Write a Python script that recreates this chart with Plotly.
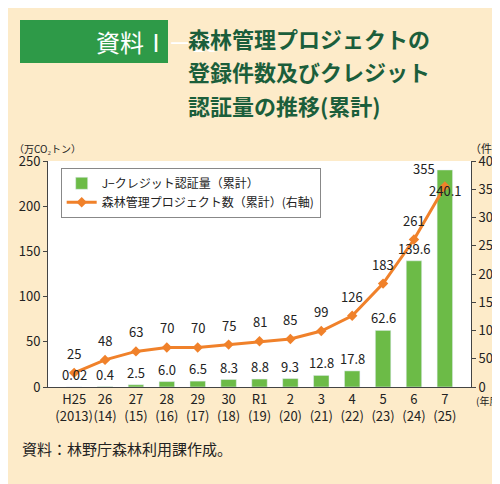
import plotly.graph_objects as go

cats = ["H25<br>(2013)", "26<br>(14)", "27<br>(15)", "28<br>(16)", "29<br>(17)", "30<br>(18)", "R1<br>(19)", "2<br>(20)", "3<br>(21)", "4<br>(22)", "5<br>(23)", "6<br>(24)", "7<br>(25)"]
credit = [0.02, 0.4, 2.5, 6.0, 6.5, 8.3, 8.8, 9.3, 12.8, 17.8, 62.6, 139.6, 240.1]
credit_lbl = ["0.02", "0.4", "2.5", "6.0", "6.5", "8.3", "8.8", "9.3", "12.8", "17.8", "62.6", "139.6", "240.1"]
projects = [25, 48, 63, 70, 70, 75, 81, 85, 99, 126, 183, 261, 355]

W, H = 500, 484
L, R, T, B = 40, 37, 153, 105
PW, PH = W - L - R, H - T - B

def px(x):
    return (x - L) / PW

def py(y):
    return (H - B - y) / PH

fig = go.Figure()
fig.add_bar(x=cats, y=credit, name="J−クレジット認証量（累計）", marker_color="#6cbb47", width=0.5)
fig.add_scatter(x=cats, y=projects, yaxis="y2", name="森林管理プロジェクト数（累計）(右軸)",
                mode="lines+markers", line=dict(color="#f0812a", width=3),
                marker=dict(symbol="diamond", size=8, color="#f0812a"))

ann = []
for i, (c, v, l) in enumerate(zip(cats, credit, credit_lbl)):
    if i == 12:
        ann.append(dict(x=c, y=205, text=l, showarrow=False, yanchor="bottom", xref="x", yref="y"))
    else:
        ann.append(dict(x=c, y=v, text=l, showarrow=False, yanchor="bottom", yshift=1, xref="x", yref="y"))
for i, (c, v) in enumerate(zip(cats, projects)):
    if i == 12:
        ann.append(dict(x=c, y=v, text=str(v), showarrow=False, xanchor="right", yanchor="bottom", yshift=6, xshift=-8, xref="x", yref="y2"))
    else:
        ann.append(dict(x=c, y=v, text=str(v), showarrow=False, yanchor="bottom", yshift=8, xref="x", yref="y2"))
for a in ann:
    a["font"] = dict(size=13, color="#222")

ann += [
    dict(x=px(4), y=py(140), xref="paper", yref="paper", text="（万CO₂トン）", showarrow=False, font=dict(size=10, color="#222"), xanchor="left", yanchor="middle"),
    dict(x=px(478), y=py(140), xref="paper", yref="paper", text="（件）", showarrow=False, font=dict(size=11, color="#222"), xanchor="center", yanchor="middle"),
    dict(x=px(466), y=py(392), xref="paper", yref="paper", text="(年度)", showarrow=False, font=dict(size=10, color="#222"), xanchor="left", yanchor="middle"),
    dict(x=px(86), y=py(33), xref="paper", yref="paper", yanchor="middle", text="資料Ⅰ－18", showarrow=False, font=dict(size=24, color="white")),
    dict(x=px(178), y=py(30), xref="paper", yref="paper", xanchor="left", yanchor="middle", text="<b>森林管理プロジェクトの</b>", showarrow=False, font=dict(size=22, color="#1b5e3b")),
    dict(x=px(178), y=py(63), xref="paper", yref="paper", xanchor="left", yanchor="middle", text="<b>登録件数及びクレジット</b>", showarrow=False, font=dict(size=22, color="#1b5e3b")),
    dict(x=px(178), y=py(97), xref="paper", yref="paper", xanchor="left", yanchor="middle", text="<b>認証量の推移(累計)</b>", showarrow=False, font=dict(size=22, color="#1b5e3b")),
    dict(x=px(12), y=py(440), xref="paper", yref="paper", xanchor="left", yanchor="middle", text="資料：林野庁森林利用課作成。", showarrow=False, font=dict(size=15, color="#222")),
]

fig.update_layout(
    width=W, height=H, paper_bgcolor="#fdebc9", plot_bgcolor="white",
    margin=dict(l=L, r=R, t=T, b=B, autoexpand=False),
    font=dict(family="Noto Sans CJK JP", color="#222"),
    showlegend=True,
    legend=dict(x=0.03, y=0.97, xanchor="left", yanchor="top", bgcolor="white",
                bordercolor="#888", borderwidth=1, font=dict(size=12), tracegroupgap=0),
    xaxis=dict(showgrid=False, showline=True, linecolor="#444", ticks="", tickangle=0, tickfont=dict(size=13), fixedrange=True),
    yaxis=dict(range=[0, 250], dtick=50, showgrid=False, showline=True, linecolor="#444", ticks="outside", ticklen=4, tickfont=dict(size=13)),
    yaxis2=dict(range=[0, 400], dtick=50, overlaying="y", side="right", showgrid=False, showline=True, linecolor="#444", ticks="outside", ticklen=4, tickfont=dict(size=13)),
    annotations=ann,
    shapes=[dict(type="rect", xref="paper", yref="paper", x0=px(12), x1=px(160), y0=py(55), y1=py(12),
                 fillcolor="#2e9a48", line=dict(width=0), layer="below")],
)
fig.write_html("out.html")
